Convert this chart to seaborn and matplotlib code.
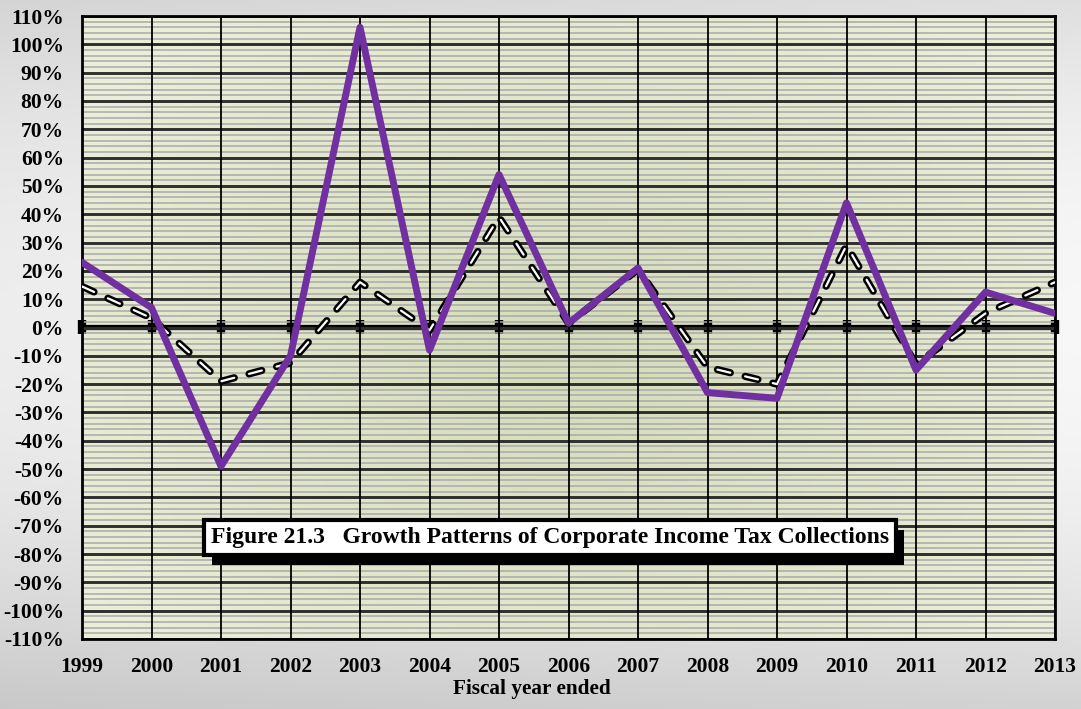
import numpy as np
import matplotlib
matplotlib.use("Agg")
import matplotlib.pyplot as plt
import matplotlib.patheffects as pe
from matplotlib.ticker import FixedLocator, MultipleLocator
import seaborn as sns

# ---- data -------------------------------------------------------------
years = list(range(1999, 2014))
cit_growth = [23, 7, -49, -10, 106, -8, 54, 1.5, 21, -23, -25, 44, -15, 12.5, 5]
base_growth = [14.5, 3.3, -19, -12.5, 16, -1, 39, 1.5, 20.5, -14, -20, 29, -13, 5, 16]
y_ticks = list(range(-110, 111, 10))
y_labels = [f"{v}%" for v in y_ticks]
title_text = "Figure 21.3   Growth Patterns of Corporate Income Tax Collections"
x_label = "Fiscal year ended"

# ---- style ------------------------------------------------------------
sns.set_style("white")
plt.rcParams["font.family"] = ["Liberation Serif", "DejaVu Serif"]
plt.rcParams["font.weight"] = "bold"
plt.rcParams["text.color"] = "black"
plt.rcParams["xtick.labelcolor"] = "black"
plt.rcParams["ytick.labelcolor"] = "black"
plt.rcParams["lines.scale_dashes"] = False

fig = plt.figure(figsize=(10.81, 7.09), dpi=100)

# figure backdrop: soft gray gradient
bg = fig.add_axes([0, 0, 1, 1], zorder=-10)
gy, gx = np.mgrid[0:1:300j, 0:1:400j]
shade = 0.77 + 0.16 * np.clip(1 - ((gy - 0.45) / 0.58) ** 2, 0, 1) + 0.04 * gx
bg.imshow(np.dstack([shade] * 3).clip(0, 1), extent=[0, 1, 0, 1],
          aspect="auto", origin="upper")
bg.set_axis_off()

ax = fig.add_axes([82 / 1081, 1 - 639 / 709, 973 / 1081, 623 / 709])
ax.patch.set_visible(False)

# plot-area fill: pale khaki, slightly greener in the middle
py, px = np.mgrid[0:1:200j, 0:1:300j]
d = np.clip(np.sqrt(((px - 0.5) / 0.6) ** 2 + ((py - 0.55) / 0.7) ** 2), 0, 1)
center = np.array([0.83, 0.86, 0.72])
edge = np.array([0.92, 0.935, 0.85])
fill = center[None, None, :] * (1 - d[..., None]) + edge[None, None, :] * d[..., None]
ax.imshow(fill, extent=[0, 1, 0, 1], transform=ax.transAxes,
          aspect="auto", origin="upper", zorder=-2)

# ---- series -----------------------------------------------------------
dash = (0, (9.5, 11.0))
sns.lineplot(x=years, y=base_growth, ax=ax, color="black", linewidth=5.2,
             linestyle=dash, dash_capstyle="round",
             dash_joinstyle="round", zorder=3)
sns.lineplot(x=years, y=base_growth, ax=ax, color="white", linewidth=1.6,
             linestyle=dash, dash_capstyle="round",
             dash_joinstyle="round", zorder=3.1)
sns.lineplot(x=years, y=cit_growth, ax=ax, color="#7030A0", linewidth=5,
             zorder=4)

# ---- axes ---------------------------------------------------------------
ax.set_xlim(years[0], years[-1])
ax.set_ylim(y_ticks[0], y_ticks[-1])
ax.set_xticks(years)
ax.set_xticklabels([str(y) for y in years], fontsize=15.5, fontweight="bold",
                   color="black")
ax.yaxis.set_major_locator(FixedLocator(y_ticks))
ax.set_yticklabels(y_labels, fontsize=15.5, fontweight="bold", color="black")
ax.yaxis.set_minor_locator(MultipleLocator(2))

ax.grid(which="minor", axis="y", color="#a9a9a9", linewidth=1.1)
ax.grid(which="major", axis="y", color="#2e2e2e", linewidth=2.1)
ax.grid(which="major", axis="x", color="black", linewidth=1.3)
ax.set_axisbelow(True)
# vertical year lines sit on top of the horizontal rules
ax.yaxis.set_zorder(0.5)
ax.xaxis.set_zorder(0.7)

ax.tick_params(axis="x", length=0, pad=13)
ax.tick_params(axis="y", which="major", direction="out", length=5,
               width=2, color="black", pad=8)
ax.tick_params(axis="y", which="minor", direction="inout", length=8,
               width=1.4, color="black")
for side in ["left", "right", "top", "bottom"]:
    ax.spines[side].set_visible(True)
    ax.spines[side].set_color("black")
    ax.spines[side].set_linewidth(2)
ax.set_xlabel("")
ax.set_ylabel("")

# zero line carrying the category tick marks
zero_frac = (0 - y_ticks[0]) / (y_ticks[-1] - y_ticks[0])
zero_axis = ax.secondary_xaxis(zero_frac)
zero_axis.set_xticks(years)
zero_axis.tick_params(direction="inout", length=10, width=6, color="black",
                      labeltop=False, labelbottom=False)
for s in zero_axis.spines.values():
    s.set_linewidth(3.8)
    s.set_color("black")

# ---- text ---------------------------------------------------------------
fig.text(532 / 1081, 1 - 689 / 709, x_label, ha="center", va="center",
         fontsize=15.3, fontweight="bold", color="black")

title = ax.text(0.481, 0.163, title_text, transform=ax.transAxes,
                ha="center", va="center", fontsize=17, fontweight="bold",
                color="black", zorder=6,
                bbox=dict(boxstyle="square,pad=0.3", fc="white",
                          ec="black", lw=3))
title.get_bbox_patch().set_path_effects(
    [pe.SimplePatchShadow(offset=(6, -7), shadow_rgbFace="black", alpha=1),
     pe.Normal()])

fig.savefig("out.png", dpi=100)
